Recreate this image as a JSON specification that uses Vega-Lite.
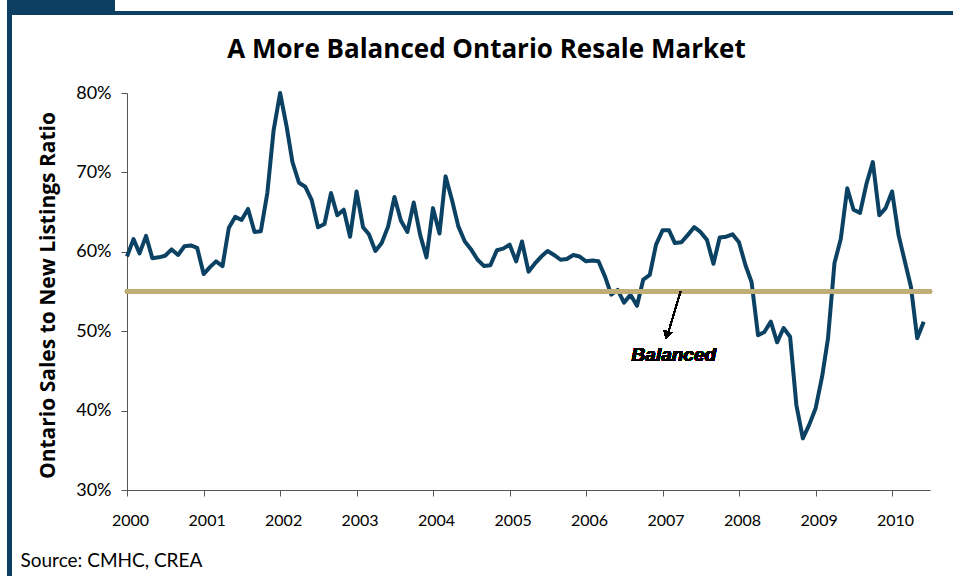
{
  "$schema": "https://vega.github.io/schema/vega-lite/v6.json",
  "width": 803,
  "height": 397,
  "autosize": {"type": "none"},
  "padding": {"left": 127, "top": 93, "right": 23, "bottom": 86},
  "background": "white",
  "config": {
    "view": {"stroke": null},
    "font": "Lato",
    "axis": {"grid": false, "domainColor": "#555555", "tickColor": "#555555", "labelColor": "#000000", "labelFont": "Lato", "titleFont": "Lato"}
  },
  "title": {
    "text": "A More Balanced Ontario Resale Market",
    "fontSize": 26,
    "fontWeight": "bold",
    "font": "Open Sans",
    "color": "#000000",
    "anchor": "middle",
    "dx": -42,
    "offset": -63
  },
  "data": {
    "values": [
      {"date": "2000-01-01", "ratio": 59.4}, {"date": "2000-02-01", "ratio": 61.6}, {"date": "2000-03-01", "ratio": 59.8}, {"date": "2000-04-01", "ratio": 62.0},
      {"date": "2000-05-01", "ratio": 59.2}, {"date": "2000-06-01", "ratio": 59.3}, {"date": "2000-07-01", "ratio": 59.5}, {"date": "2000-08-01", "ratio": 60.3},
      {"date": "2000-09-01", "ratio": 59.6}, {"date": "2000-10-01", "ratio": 60.7}, {"date": "2000-11-01", "ratio": 60.8}, {"date": "2000-12-01", "ratio": 60.5},
      {"date": "2001-01-01", "ratio": 57.2}, {"date": "2001-02-01", "ratio": 58.1}, {"date": "2001-03-01", "ratio": 58.8}, {"date": "2001-04-01", "ratio": 58.2},
      {"date": "2001-05-01", "ratio": 63.0}, {"date": "2001-06-01", "ratio": 64.4}, {"date": "2001-07-01", "ratio": 64.0}, {"date": "2001-08-01", "ratio": 65.4},
      {"date": "2001-09-01", "ratio": 62.5}, {"date": "2001-10-01", "ratio": 62.6}, {"date": "2001-11-01", "ratio": 67.4}, {"date": "2001-12-01", "ratio": 75.3},
      {"date": "2002-01-01", "ratio": 80.0}, {"date": "2002-02-01", "ratio": 75.8}, {"date": "2002-03-01", "ratio": 71.3}, {"date": "2002-04-01", "ratio": 68.7},
      {"date": "2002-05-01", "ratio": 68.2}, {"date": "2002-06-01", "ratio": 66.5}, {"date": "2002-07-01", "ratio": 63.1}, {"date": "2002-08-01", "ratio": 63.5},
      {"date": "2002-09-01", "ratio": 67.4}, {"date": "2002-10-01", "ratio": 64.6}, {"date": "2002-11-01", "ratio": 65.3}, {"date": "2002-12-01", "ratio": 61.9},
      {"date": "2003-01-01", "ratio": 67.6}, {"date": "2003-02-01", "ratio": 63.1}, {"date": "2003-03-01", "ratio": 62.2}, {"date": "2003-04-01", "ratio": 60.1},
      {"date": "2003-05-01", "ratio": 61.1}, {"date": "2003-06-01", "ratio": 63.2}, {"date": "2003-07-01", "ratio": 66.9}, {"date": "2003-08-01", "ratio": 63.9},
      {"date": "2003-09-01", "ratio": 62.5}, {"date": "2003-10-01", "ratio": 66.2}, {"date": "2003-11-01", "ratio": 62.1}, {"date": "2003-12-01", "ratio": 59.3},
      {"date": "2004-01-01", "ratio": 65.5}, {"date": "2004-02-01", "ratio": 62.3}, {"date": "2004-03-01", "ratio": 69.5}, {"date": "2004-04-01", "ratio": 66.5},
      {"date": "2004-05-01", "ratio": 63.2}, {"date": "2004-06-01", "ratio": 61.3}, {"date": "2004-07-01", "ratio": 60.3}, {"date": "2004-08-01", "ratio": 59.0},
      {"date": "2004-09-01", "ratio": 58.2}, {"date": "2004-10-01", "ratio": 58.3}, {"date": "2004-11-01", "ratio": 60.2}, {"date": "2004-12-01", "ratio": 60.4},
      {"date": "2005-01-01", "ratio": 60.9}, {"date": "2005-02-01", "ratio": 58.8}, {"date": "2005-03-01", "ratio": 61.3}, {"date": "2005-04-01", "ratio": 57.5},
      {"date": "2005-05-01", "ratio": 58.5}, {"date": "2005-06-01", "ratio": 59.4}, {"date": "2005-07-01", "ratio": 60.1}, {"date": "2005-08-01", "ratio": 59.6},
      {"date": "2005-09-01", "ratio": 59.0}, {"date": "2005-10-01", "ratio": 59.1}, {"date": "2005-11-01", "ratio": 59.6}, {"date": "2005-12-01", "ratio": 59.4},
      {"date": "2006-01-01", "ratio": 58.8}, {"date": "2006-02-01", "ratio": 58.9}, {"date": "2006-03-01", "ratio": 58.8}, {"date": "2006-04-01", "ratio": 56.9},
      {"date": "2006-05-01", "ratio": 54.6}, {"date": "2006-06-01", "ratio": 55.2}, {"date": "2006-07-01", "ratio": 53.6}, {"date": "2006-08-01", "ratio": 54.6},
      {"date": "2006-09-01", "ratio": 53.2}, {"date": "2006-10-01", "ratio": 56.5}, {"date": "2006-11-01", "ratio": 57.1}, {"date": "2006-12-01", "ratio": 60.9},
      {"date": "2007-01-01", "ratio": 62.7}, {"date": "2007-02-01", "ratio": 62.7}, {"date": "2007-03-01", "ratio": 61.1}, {"date": "2007-04-01", "ratio": 61.2},
      {"date": "2007-05-01", "ratio": 62.1}, {"date": "2007-06-01", "ratio": 63.1}, {"date": "2007-07-01", "ratio": 62.5}, {"date": "2007-08-01", "ratio": 61.5},
      {"date": "2007-09-01", "ratio": 58.5}, {"date": "2007-10-01", "ratio": 61.8}, {"date": "2007-11-01", "ratio": 61.9}, {"date": "2007-12-01", "ratio": 62.2},
      {"date": "2008-01-01", "ratio": 61.2}, {"date": "2008-02-01", "ratio": 58.3}, {"date": "2008-03-01", "ratio": 56.2}, {"date": "2008-04-01", "ratio": 49.5},
      {"date": "2008-05-01", "ratio": 49.9}, {"date": "2008-06-01", "ratio": 51.2}, {"date": "2008-07-01", "ratio": 48.6}, {"date": "2008-08-01", "ratio": 50.4},
      {"date": "2008-09-01", "ratio": 49.3}, {"date": "2008-10-01", "ratio": 40.7}, {"date": "2008-11-01", "ratio": 36.5}, {"date": "2008-12-01", "ratio": 38.2},
      {"date": "2009-01-01", "ratio": 40.3}, {"date": "2009-02-01", "ratio": 44.3}, {"date": "2009-03-01", "ratio": 49.1}, {"date": "2009-04-01", "ratio": 58.6},
      {"date": "2009-05-01", "ratio": 61.6}, {"date": "2009-06-01", "ratio": 68.0}, {"date": "2009-07-01", "ratio": 65.3}, {"date": "2009-08-01", "ratio": 64.9},
      {"date": "2009-09-01", "ratio": 68.6}, {"date": "2009-10-01", "ratio": 71.3}, {"date": "2009-11-01", "ratio": 64.6}, {"date": "2009-12-01", "ratio": 65.5},
      {"date": "2010-01-01", "ratio": 67.6}, {"date": "2010-02-01", "ratio": 62.1}, {"date": "2010-03-01", "ratio": 59.0}, {"date": "2010-04-01", "ratio": 55.6},
      {"date": "2010-05-01", "ratio": 49.1}, {"date": "2010-06-01", "ratio": 51.2}
    ]
  },
  "layer": [
    {
      "mark": {"type": "line", "color": "#0B4263", "strokeWidth": 4, "strokeJoin": "round"},
      "encoding": {
        "x": {
          "field": "date", "type": "temporal",
          "scale": {"domain": ["2000-01-01", "2010-07-01"]},
          "axis": {
            "format": "%Y", "tickCount": {"interval": "year", "step": 1},
            "labelFontSize": 16, "labelPadding": 16, "tickSize": 6, "labelFlush": false, "labelOffset": 3,
            "labelOverlap": false,
            "title": "Source: CMHC, CREA", "titleFontSize": 19, "titleFontWeight": "normal",
            "titleAnchor": "start", "titleAlign": "left", "titleX": -107, "titleY": 76, "titleBaseline": "alphabetic"
          }
        },
        "y": {
          "field": "ratio", "type": "quantitative",
          "scale": {"domain": [30, 80]},
          "axis": {
            "values": [30, 40, 50, 60, 70, 80],
            "labelExpr": "datum.value + '%'",
            "labelFontSize": 18, "labelPadding": 10, "tickSize": 6,
            "title": "Ontario Sales to New Listings Ratio", "titleFontSize": 21, "titleFontWeight": "bold", "titleFont": "Open Sans",
            "titleX": -79, "titleY": 202, "titleBaseline": "middle"
          }
        }
      }
    },
    {
      "mark": {"type": "rule", "color": "#C0AE78", "strokeWidth": 4, "strokeCap": "round"},
      "encoding": {"y": {"datum": 55}}
    },
    {
      "mark": {"type": "rule", "color": "#000000", "strokeWidth": 1.2},
      "encoding": {
        "x": {"datum": {"year": 2007, "month": 3, "date": 28}},
        "y": {"datum": 55},
        "x2": {"datum": {"year": 2007, "month": 1, "date": 21}},
        "y2": {"datum": 49.2}
      }
    },
    {
      "mark": {"type": "point", "shape": "triangle-down", "filled": true, "color": "#000000", "size": 80, "angle": 16, "opacity": 1},
      "encoding": {
        "x": {"datum": {"year": 2007, "month": 1, "date": 22}},
        "y": {"datum": 49.5}
      }
    },
    {
      "mark": {"type": "text", "text": "Balanced", "font": "Liberation Sans", "fontSize": 19, "fontWeight": "bold", "fontStyle": "italic", "color": "#000000", "align": "center", "baseline": "middle"},
      "encoding": {
        "x": {"datum": {"year": 2007, "month": 2, "date": 24}},
        "y": {"datum": 47.0}
      }
    },
    {
      "mark": {"type": "rule", "color": "#0C3F61", "strokeWidth": 4},
      "encoding": {
        "x": {"datum": {"year": 1998, "month": 6, "date": 10}},
        "x2": {"datum": {"year": 2010, "month": 11, "date": 1}},
        "y": {"datum": 90.08}
      }
    },
    {
      "mark": {"type": "rule", "color": "#0C3F61", "strokeWidth": 4},
      "encoding": {
        "x": {"datum": {"year": 1998, "month": 6, "date": 20}},
        "y": {"datum": 90.3},
        "y2": {"datum": 18}
      }
    },
    {
      "mark": {"type": "rect", "color": "#0C3F61"},
      "encoding": {
        "x": {"datum": {"year": 1998, "month": 6, "date": 10}},
        "x2": {"datum": {"year": 1999, "month": 11, "date": 4}},
        "y": {"datum": 91.7},
        "y2": {"datum": 90.2}
      }
    }
  ]
}
